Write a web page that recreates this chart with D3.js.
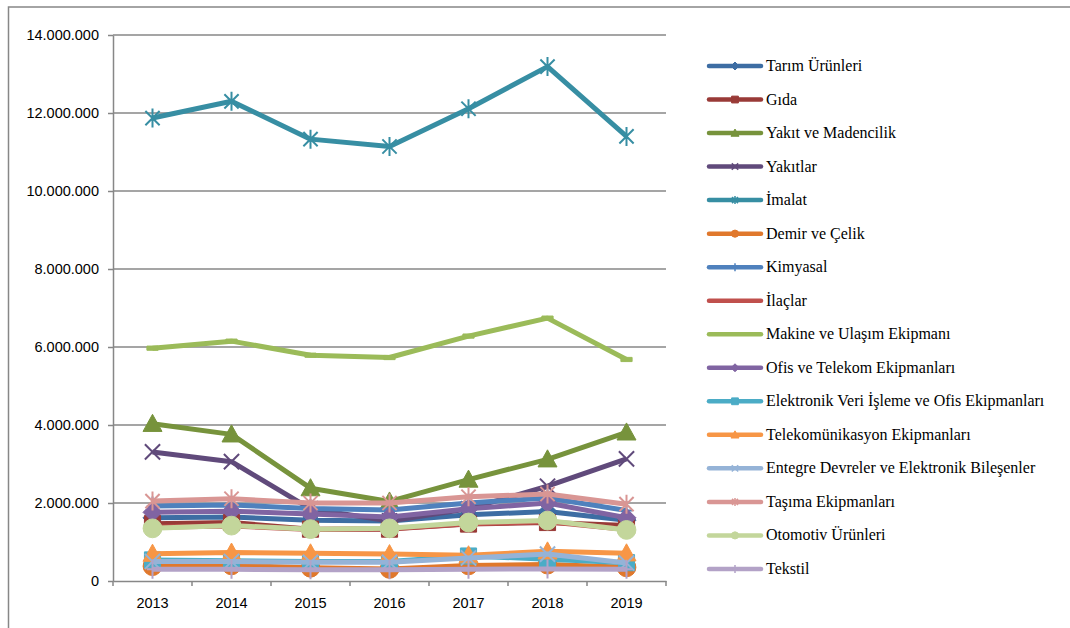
<!DOCTYPE html>
<html><head><meta charset="utf-8">
<script src="https://cdn.jsdelivr.net/npm/d3@7"></script>
<style>body{margin:0;background:#fff}svg{display:block}</style>
</head><body><svg id="c" width="1070" height="628"></svg>
<script>
const years = ["2013","2014","2015","2016","2017","2018","2019"];
const yTicks = [0,2000000,4000000,6000000,8000000,10000000,12000000,14000000];
const seriesNames = ["Tarım Ürünleri","Gıda","Yakıt ve Madencilik","Yakıtlar","İmalat","Demir ve Çelik","Kimyasal","İlaçlar","Makine ve Ulaşım Ekipmanı","Ofis ve Telekom Ekipmanları","Elektronik Veri İşleme ve Ofis Ekipmanları","Telekomünikasyon Ekipmanları","Entegre Devreler ve Elektronik Bileşenler","Taşıma Ekipmanları","Otomotiv Ürünleri","Tekstil"];
const tarim      = [1620000,1640000,1560000,1540000,1700000,1780000,1560000];
const gida       = [1470000,1500000,1330000,1330000,1460000,1500000,1420000];
const yakitMaden = [4030000,3760000,2380000,2040000,2600000,3120000,3810000];
const yakitlar   = [3310000,3060000,1850000,1540000,1850000,2430000,3130000];
const imalat     = [11870000,12300000,11330000,11140000,12110000,13190000,11400000];
const demir      = [380000,400000,340000,310000,400000,420000,350000];
const kimyasal   = [1920000,1950000,1860000,1820000,2000000,2130000,1810000];
const ilaclar    = [1380000,1410000,1320000,1340000,1470000,1520000,1320000];
const makine     = [5970000,6150000,5790000,5730000,6280000,6740000,5680000];
const ofis       = [1760000,1790000,1720000,1640000,1850000,2000000,1620000];
const elektronik = [540000,520000,500000,500000,640000,560000,470000];
const telekom    = [700000,730000,710000,690000,660000,760000,710000];
const entegre    = [500000,500000,480000,480000,590000,690000,460000];
const tasima     = [2050000,2110000,2000000,2000000,2160000,2230000,1970000];
const otomotiv   = [1350000,1420000,1330000,1350000,1500000,1550000,1310000];
const tekstil    = [300000,300000,290000,290000,300000,310000,300000];

const seriesValues = [tarim,gida,yakitMaden,yakitlar,imalat,demir,kimyasal,ilaclar,makine,ofis,elektronik,telekom,entegre,tasima,otomotiv,tekstil];
const colors = ["#3D6DA3","#993A37","#77933C","#604A7B","#378EA3","#E0782C","#4F81BD","#C0504D","#9BBB59","#8064A2","#4BACC6","#F79646","#95B3D7","#D99694","#C3D69B","#B3A2C7"];
const markers = ["diamond","square","triangle","x","asterisk","circle","plus","dash","dash","diamond","square","triangle","x","asterisk","circle","plus"];

const svg = d3.select("#c");
const gray = "#878787";

// outer frame
svg.append("path").attr("d","M8.5,628 L8.5,7 L1070,7").attr("fill","none").attr("stroke",gray).attr("stroke-width",1.5);

const x = d3.scaleBand().domain(years).range([113,666]);
const y = d3.scaleLinear().domain([0,14000000]).range([581,35]);
const fmt = d3.formatLocale({decimal:",",thousands:".",grouping:[3],currency:["",""]}).format(",");

// gridlines
svg.append("g").selectAll("line").data(yTicks.filter(d=>d>0)).join("line")
  .attr("x1",113).attr("x2",666).attr("y1",d=>y(d)).attr("y2",d=>y(d))
  .attr("stroke",gray).attr("stroke-width",1.5);

// y axis
const ya = svg.append("g").attr("transform","translate(113,0)")
  .call(d3.axisLeft(y).tickValues(yTicks).tickSize(5).tickSizeOuter(0).tickPadding(9).tickFormat(fmt));
ya.selectAll("path,line").attr("stroke",gray).attr("stroke-width",1.5);
ya.selectAll("text").attr("font-family","'Liberation Sans',Arial,sans-serif").attr("font-size",14.5).attr("fill","#000");

// x axis
const xa = svg.append("g").attr("transform","translate(0,581)")
  .call(d3.axisBottom(x).tickSize(0).tickSizeOuter(0).tickPadding(17));
xa.selectAll("path").attr("stroke",gray).attr("stroke-width",1.5);
xa.selectAll("text").attr("font-family","'Liberation Sans',Arial,sans-serif").attr("font-size",14.5).attr("fill","#000");
const bounds = d3.range(years.length+1).map(i=>x.range()[0]+i*x.step());
xa.selectAll("line.bt").data(bounds).join("line").attr("class","bt")
  .attr("x1",d=>d).attr("x2",d=>d).attr("y1",0).attr("y2",5).attr("stroke",gray).attr("stroke-width",1.5);

function markerPath(type, s){
  const h = s/2;
  switch(type){
    case "diamond": return `M0,${-h}L${h},0L0,${h}L${-h},0Z`;
    case "square": return `M${-h*0.85},${-h*0.85}H${h*0.85}V${h*0.85}H${-h*0.85}Z`;
    case "triangle": return `M0,${-h}L${h},${h*0.8}L${-h},${h*0.8}Z`;
    case "circle": return d3.symbol(d3.symbolCircle, Math.PI*h*h*0.8)();
    case "x": return `M${-h*0.8},${-h*0.8}L${h*0.8},${h*0.8}M${-h*0.8},${h*0.8}L${h*0.8},${-h*0.8}`;
    case "asterisk": return `M${-h*0.75},${-h*0.75}L${h*0.75},${h*0.75}M${-h*0.75},${h*0.75}L${h*0.75},${-h*0.75}M0,${-h}L0,${h}`;
    case "plus": return `M${-h*0.6},0L${h*0.6},0M0,${-h}L0,${h}`;
    case "dash": return `M${-h*0.8},${-h*0.3}H${h*0.8}V${h*0.3}H${-h*0.8}Z`;
  }
}
const strokeOnly = t => (t==="x"||t==="asterisk"||t==="plus");

function drawMarker(g, type, s, color, sw, tx, ty){
  const p = g.append("path").attr("d",markerPath(type,s)).attr("transform",`translate(${tx},${ty})`);
  if(strokeOnly(type)) p.attr("fill","none").attr("stroke",color).attr("stroke-width",sw);
  else p.attr("fill",color).attr("stroke",color).attr("stroke-width",1);
}

const line = d3.line().x((d,i)=>x(years[i])+x.bandwidth()/2).y(d=>y(d)).curve(d3.curveLinear);
const plot = svg.append("g");
seriesValues.forEach((vals,k)=>{
  const g = plot.append("g");
  g.append("path").attr("d",line(vals)).attr("fill","none").attr("stroke",colors[k])
    .attr("stroke-width",5).attr("stroke-linejoin","round").attr("stroke-linecap","butt");
  const ms = markers[k]==="dash" ? 14 : (markers[k]==="circle" ? 21 : 19);
  vals.forEach((v,i)=>{
    drawMarker(g, markers[k], ms, colors[k], 2, x(years[i])+x.bandwidth()/2, y(v));
  });
});

// legend
const lg = svg.append("g");
seriesNames.forEach((name,k)=>{
  const ly = 66 + k*33.53;
  lg.append("line").attr("x1",709).attr("x2",761).attr("y1",ly).attr("y2",ly)
    .attr("stroke",colors[k]).attr("stroke-width",4.5).attr("stroke-linecap","round");
  if(markers[k]!=="dash") drawMarker(lg, markers[k], 8, colors[k], 1.5, 735, ly);
  lg.append("text").attr("x",766).attr("y",ly+5).text(name)
    .attr("font-family","'Liberation Serif','Times New Roman',serif").attr("font-size",16).attr("fill","#000");
});
</script>
</body></html>
